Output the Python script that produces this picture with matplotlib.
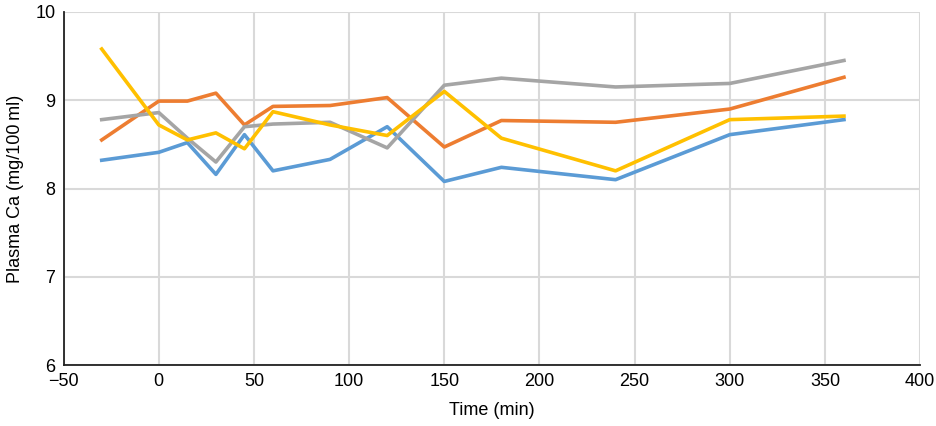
import matplotlib
matplotlib.use("Agg")
import matplotlib.pyplot as plt

plt.rcParams["font.family"] = ["Liberation Sans", "DejaVu Sans"]

# Sampling times (min)
time = [-30, 0, 15, 30, 45, 60, 90, 120, 150, 180, 240, 300, 360]

# Plasma Ca (mg/100 ml) for each series
blue = [8.32, 8.41, 8.52, 8.16, 8.61, 8.20, 8.33, 8.70, 8.08, 8.24, 8.10, 8.61, 8.78]
orange = [8.55, 8.99, 8.99, 9.08, 8.72, 8.93, 8.94, 9.03, 8.47, 8.77, 8.75, 8.90, 9.26]
gray = [8.78, 8.86, 8.57, 8.30, 8.70, 8.73, 8.75, 8.46, 9.17, 9.25, 9.15, 9.19, 9.45]
yellow = [9.58, 8.72, 8.55, 8.63, 8.45, 8.87, 8.72, 8.60, 9.10, 8.57, 8.20, 8.78, 8.82]

fig = plt.figure(figsize=(9.36, 4.26), dpi=100)
ax = fig.add_axes([0.068, 0.143, 0.915, 0.829])

ax.plot(time, blue, color="#5B9BD5", lw=2.6)
ax.plot(time, orange, color="#ED7D31", lw=2.6)
ax.plot(time, gray, color="#A5A5A5", lw=2.6)
ax.plot(time, yellow, color="#FFC000", lw=2.6)

ax.set_xlim(-50, 400)
ax.set_ylim(6, 10)
ax.set_xticks(range(-50, 401, 50))
ax.set_yticks(range(6, 11))

ax.grid(True, color="#D9D9D9", lw=1.5)
ax.set_axisbelow(True)
for s in ["top", "right"]:
    ax.spines[s].set_visible(False)
for s in ["left", "bottom"]:
    ax.spines[s].set_linewidth(1.3)
    ax.spines[s].set_color("#222222")
ax.tick_params(length=0, labelsize=13, pad=6)

ax.set_xlabel("Time (min)", fontsize=13, labelpad=8)
ax.set_ylabel("Plasma Ca (mg/100\u2009ml)", fontsize=13, labelpad=8)

fig.savefig("out.png", dpi=100)
